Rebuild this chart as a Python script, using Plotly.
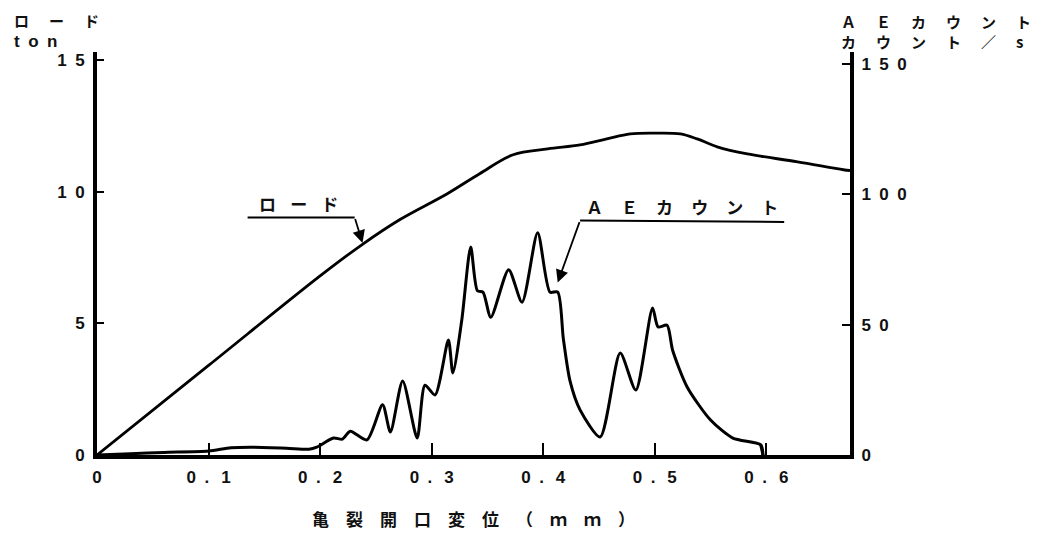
import plotly.graph_objects as go

# ---- data ----
load_x = [0, 0.1, 0.2, 0.238, 0.272, 0.314, 0.343, 0.373, 0.404, 0.433, 0.457,
          0.478, 0.50, 0.523, 0.538, 0.556, 0.583, 0.628, 0.669, 0.675]
load_ton = [0, 3.4, 6.8, 8.0, 8.95, 9.92, 10.68, 11.4, 11.62, 11.77, 12.0,
            12.19, 12.22, 12.19, 12.0, 11.7, 11.43, 11.13, 10.83, 10.8]

ae_x = [0, 0.03, 0.06, 0.1, 0.12, 0.14, 0.17, 0.19, 0.197, 0.212, 0.220, 0.227,
        0.242, 0.256, 0.263, 0.274, 0.287, 0.294, 0.303, 0.315, 0.319, 0.327,
        0.335, 0.341, 0.346, 0.353, 0.369, 0.381, 0.395, 0.406, 0.413, 0.418,
        0.424, 0.433, 0.451, 0.469, 0.483, 0.498, 0.503, 0.511, 0.516, 0.529,
        0.550, 0.570, 0.595, 0.597]
ae_count = [0, 0.5, 1.0, 1.5, 2.8, 3.0, 2.6, 2.2, 3.0, 6.5, 6.1, 9.1,
            5.8, 19.3, 8.8, 28.4, 6.5, 26.8, 23.0, 44.1, 31.5, 51.8,
            79.8, 63.0, 62.5, 52.8, 71.1, 58.6, 85.3, 62.5, 62.5, 44.7,
            28.4, 17.3, 6.9, 39.1, 24.9, 56.4, 49.1, 49.8, 40.2, 26.1,
            13.4, 6.5, 3.9, 0.0]

SP = "\u2002.\u2002\u2009"   # spaced decimal point used on the x ticks
JSP = "\u2002\u2004"         # letter gap for the in-plot ロード label
WSP = "\u2003\u200a"         # wider gap for the in-plot AE lettering
HSP = "\u2003\u2004"         # gap for the headings
TSP = "\u2002\u2002"         # gap for the x-axis title

x_ticks = [0, 0.1, 0.2, 0.3, 0.4, 0.5, 0.6]
x_ticktext = ["0"] + [f"0{SP}{d}" for d in ["1", "2", "3", "4", "5", "6"]]
y_ticks = [0, 5, 10, 15]
y_ticktext = ["0", "5", "1\u20020", "1\u20025"]
y2_ticks = [0, 50, 100, 150]
y2_ticktext = ["0", "5\u20020", "1\u20020\u20020", "1\u20025\u20020"]

FONT = "Liberation Sans, Arial, Noto Sans CJK JP"
JP = "Noto Sans CJK JP, Liberation Sans"

fig = go.Figure()
fig.add_trace(go.Scatter(x=load_x, y=load_ton, mode="lines",
                         line=dict(color="black", width=2.8, shape="spline", smoothing=1.0),
                         yaxis="y", showlegend=False))
fig.add_trace(go.Scatter(x=ae_x, y=ae_count, mode="lines",
                         line=dict(color="black", width=3, shape="spline", smoothing=0.7),
                         yaxis="y2", showlegend=False))
# vertical drop at end of AE curve
fig.add_trace(go.Scatter(x=[ae_x[-2], ae_x[-1]], y=[ae_count[-2], ae_count[-1]], mode="lines",
                         line=dict(color="black", width=3), yaxis="y2", showlegend=False))

tickfont = dict(family=FONT, size=17, color="#111", weight="bold")

title_txt = TSP.join(list("亀裂開口変位")) + TSP + TSP.join(["（", "ｍ", "ｍ", "）"])

fig.update_layout(
    width=1041, height=533,
    margin=dict(l=89, r=199, t=44, b=86, autoexpand=False),
    paper_bgcolor="white", plot_bgcolor="white",
    xaxis=dict(range=[0, 0.675], tickvals=x_ticks, ticktext=x_ticktext,
               ticks="inside", ticklen=12, tickwidth=2, tickcolor="black",
               showline=True, linewidth=4, linecolor="black", ticklabelstandoff=4,
               showgrid=False, zeroline=False, tickfont=tickfont,
               title=dict(text=title_txt,
                          font=dict(family=JP, size=17, color="#111", weight="bold"),
                          standoff=29)),
    yaxis=dict(range=[0, 15.3], tickvals=y_ticks, ticktext=y_ticktext,
               ticks="inside", ticklen=7, tickwidth=2, tickcolor="black",
               showline=True, linewidth=4, linecolor="black", ticklabelstandoff=5,
               showgrid=False, zeroline=False, tickfont=tickfont),
    yaxis2=dict(range=[0, 154.6], tickvals=y2_ticks, ticktext=y2_ticktext,
                overlaying="y", side="right",
                ticks="inside", ticklen=8, tickwidth=2, tickcolor="black",
                showline=True, linewidth=4, linecolor="black", ticklabelstandoff=4,
                showgrid=False, zeroline=False, tickfont=tickfont),
)

hfont = dict(family=JP, size=15, color="#111", weight="bold")
pfont = dict(family=JP, size=17, color="#111", weight="bold")

left_head = (HSP.join(list("ロード")) + "<br>"
             + "<span style='font-family:Liberation Sans, Arial;font-size:17px'>t\u2002o\u2002n</span>")
right_head = HSP.join(list("ＡＥカウント")) + "<br>" + HSP.join(list("カウント／")) + HSP + "s"

# axis headings (positions as fractions of the plot area)
fig.add_annotation(text=left_head, xref="paper", yref="paper", x=-0.113, y=1.054,
                   xanchor="left", yanchor="middle", align="left", showarrow=False, font=hfont)
fig.add_annotation(text=right_head, xref="paper", yref="paper", x=0.985, y=1.05,
                   xanchor="left", yanchor="middle", align="left", showarrow=False, font=hfont)

# in-plot labels with leader lines
fig.add_annotation(text=JSP.join(list("ロード")), x=0.181, y=9.55, xref="x", yref="y",
                   showarrow=False, font=pfont)
fig.add_shape(type="line", x0=0.135, y0=9.02, x1=0.231, y1=9.02, xref="x", yref="y",
              line=dict(color="black", width=2))
fig.add_annotation(x=0.238, y=8.05, ax=0.231, ay=9.02, xref="x", yref="y",
                   axref="x", ayref="y", text="", showarrow=True,
                   arrowhead=2, arrowsize=1.4, arrowwidth=1.8, arrowcolor="black")

fig.add_annotation(text=WSP.join(list("ＡＥカウント")), x=0.524, y=9.45, xref="x", yref="y",
                   showarrow=False, font=pfont)
fig.add_shape(type="line", x0=0.433, y0=8.9, x1=0.616, y1=8.85, xref="x", yref="y",
              line=dict(color="black", width=2))
fig.add_annotation(x=0.413, y=6.55, ax=0.433, ay=8.9, xref="x", yref="y",
                   axref="x", ayref="y", text="", showarrow=True,
                   arrowhead=2, arrowsize=1.4, arrowwidth=1.8, arrowcolor="black")

fig.write_html("out.html")
